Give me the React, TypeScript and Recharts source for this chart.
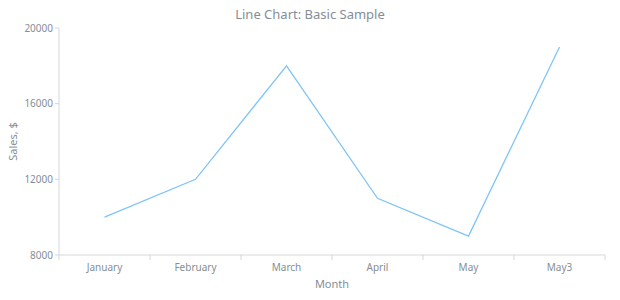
import React from 'react';
import { LineChart, Line, XAxis, YAxis, Label } from 'recharts';

const months = ['January', 'February', 'March', 'April', 'May', 'May3'];
const sales = [10000, 12000, 18000, 11000, 9000, 19000];
const yTicks = [8000, 12000, 16000, 20000];

const data = months.map((month, i) => ({ month, sales: sales[i] }));

const FONT = '"Noto Sans", "DejaVu Sans", sans-serif';
const TEXT = '#858e96';
const AXIS = '#d3d7da';

const MonthTick = (props: any) => {
  const { x, y, payload, index } = props;
  const half = payload && payload.offset ? payload.offset : 45.5;
  return (
    <g>
      <line x1={x - half} x2={x - half} y1={y - 8} y2={y - 3} stroke={AXIS} />
      {index === months.length - 1 && (
        <line x1={x + half} x2={x + half} y1={y - 8} y2={y - 3} stroke={AXIS} />
      )}
      <text x={x} y={y + 8} textAnchor="middle" fill={TEXT} fontSize={10} fontFamily={FONT}>
        {payload.value}
      </text>
    </g>
  );
};

export default function App() {
  return (
    <div style={{ position: 'absolute', left: 0, top: 0, width: 620, height: 300, background: '#fff' }}>
      <div
        style={{
          position: 'absolute',
          top: 5,
          left: 0,
          width: 620,
          textAlign: 'center',
          fontFamily: FONT,
          fontSize: 13,
          color: TEXT,
        }}
      >
        Line Chart: Basic Sample
      </div>
      <LineChart width={620} height={300} data={data} margin={{ top: 28, right: 15, bottom: 0, left: 0 }}>
        <XAxis
          dataKey="month"
          scale="band"
          axisLine={{ stroke: AXIS }}
          tickLine={false}
          tick={<MonthTick />}
          height={45}
          interval={0}
        >
          <Label value="Month" position="insideBottom" offset={12} fill={TEXT} fontSize={11} fontFamily={FONT} />
        </XAxis>
        <YAxis
          width={59}
          domain={[8000, 20000]}
          ticks={yTicks}
          axisLine={{ stroke: AXIS }}
          tickLine={{ stroke: AXIS }}
          tickSize={4}
          tick={{ fill: TEXT, fontSize: 10, fontFamily: FONT }}
        >
          <Label
            value="Sales, $"
            angle={-90}
            position="insideLeft"
            offset={13}
            fill={TEXT}
            fontSize={11}
            fontFamily={FONT}
            style={{ textAnchor: 'middle' }}
          />
        </YAxis>
        <Line
          type="linear"
          dataKey="sales"
          stroke="#80c4f6"
          strokeWidth={1.3}
          dot={false}
          isAnimationActive={false}
        />
      </LineChart>
    </div>
  );
}
